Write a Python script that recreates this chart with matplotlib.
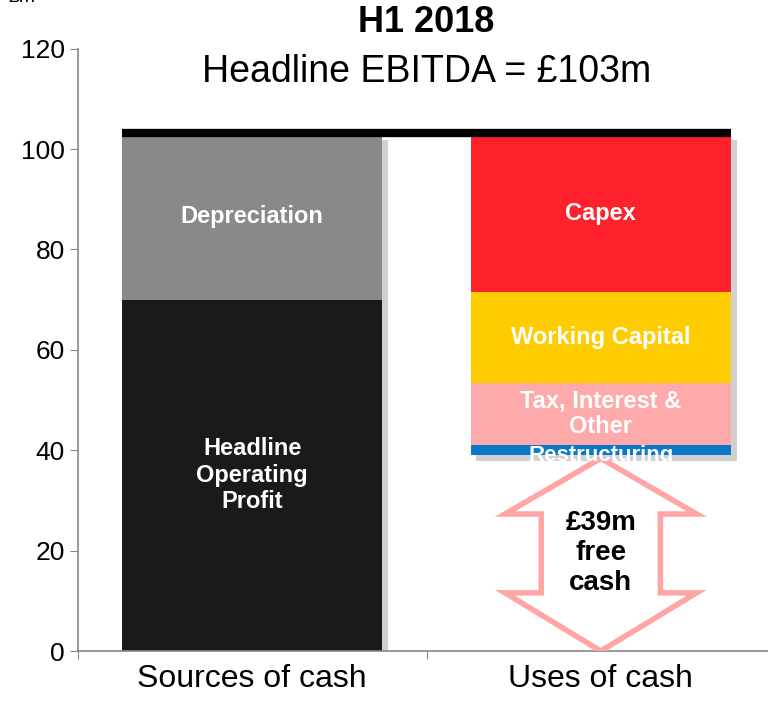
import numpy as np
import matplotlib
matplotlib.use("Agg")
import matplotlib.pyplot as plt
import matplotlib.patheffects as pe
from matplotlib.patches import Polygon

plt.rcParams['font.family'] = ['Liberation Sans', 'DejaVu Sans']

categories = ["Sources of cash", "Uses of cash"]
ebitda = 103

# sources stack (bottom -> top)
src_labels = ["Headline\nOperating\nProfit", "Depreciation"]
src_values = [70, 33]
src_colors = ["#1a1a1a", "#898989"]

# uses stack (top -> down from EBITDA)
use_labels = ["Capex", "Working Capital", "Tax, Interest &\nOther", "Restructuring"]
use_values = [31.5, 18, 12.5, 2]
use_colors = ["#ff222c", "#ffcc00", "#ffaaaa", "#0a78c8"]

free_cash = ebitda - sum(use_values)

fig = plt.figure(figsize=(7.68, 7.02), dpi=100)
ax = fig.add_axes([0.1016, 0.0726, 0.9076, 0.858])

x = np.arange(len(categories))
w = 0.747
shadow = [pe.SimplePatchShadow(offset=(4, -4), alpha=0.3, shadow_rgbFace="#666666")]

# soft shadows behind each stack
sb = ax.bar(x[0], sum(src_values), w, color="none", zorder=1)
sb[0].set_path_effects(shadow)
ub = ax.bar(x[1], sum(use_values), w, bottom=ebitda - sum(use_values), color="none", zorder=1)
ub[0].set_path_effects(shadow)

bottom = 0
for lab, v, c in zip(src_labels, src_values, src_colors):
    ax.bar(x[0], v, w, bottom=bottom, color=c, zorder=2)
    ax.text(x[0], bottom + v / 2, lab, ha="center", va="center", color="white",
            fontsize=17, fontweight="bold", zorder=5, linespacing=1.2)
    bottom += v

top = ebitda
for lab, v, c in zip(use_labels, use_values, use_colors):
    ax.bar(x[1], v, w, bottom=top - v, color=c, zorder=2)
    ypos = top - v / 2
    fs = 17
    if lab == "Restructuring":
        ypos = top - v
        fs = 16
    ax.text(x[1], ypos, lab, ha="center", va="center", color="white",
            fontsize=fs, fontweight="bold", zorder=5, linespacing=1.1)
    top -= v

# EBITDA line
ax.plot([x[0] - w / 2, x[1] + w / 2], [ebitda + 0.3, ebitda + 0.3], color="black", lw=6,
        solid_capstyle="butt", zorder=4)

# free cash double arrow
cx = x[1]
tip_top = free_cash - 0.6
head_h = 11.1
hw, sw = 0.275, 0.171
arrow = [(cx, tip_top), (cx + hw, tip_top - head_h), (cx + sw, tip_top - head_h),
         (cx + sw, head_h + 0.5), (cx + hw, head_h + 0.5), (cx, 0),
         (cx - hw, head_h + 0.5), (cx - sw, head_h + 0.5), (cx - sw, tip_top - head_h),
         (cx - hw, tip_top - head_h)]
ax.add_patch(Polygon(arrow, closed=True, facecolor="white", edgecolor="#ffa5a5", lw=4,
                     zorder=3, joinstyle="miter"))
ax.text(cx, tip_top / 2 + 0.3, "£%gm\nfree\ncash" % free_cash, ha="center", va="center",
        fontsize=20, fontweight="bold", color="black", zorder=5, linespacing=1.2)

ax.text(0.5, 1.044, "H1 2018", transform=ax.transAxes, ha="center", va="center",
        fontsize=26, fontweight="bold")
ax.text(0.5, 0.962, "Headline EBITDA = £%dm" % ebitda, transform=ax.transAxes,
        ha="center", va="center", fontsize=27)
ax.text(-0.1, 1.085, "£m", transform=ax.transAxes, ha="left", va="center", fontsize=14)

ax.set_ylim(0, 120)
ax.set_xlim(-0.5, 1.5)
ax.set_yticks(np.arange(0, 121, 20))
ax.tick_params(axis="y", labelsize=19, color="#888888", length=6, direction="out")
ax.set_xticks([-0.5, 0.5, 1.5])
ax.set_xticklabels([])
ax.tick_params(axis="x", which="major", color="#888888", length=6)
ax.set_xticks(x, minor=True)
ax.set_xticklabels(categories, minor=True, fontsize=23)
ax.tick_params(axis="x", which="minor", length=0, pad=9)
for s in ["top", "right"]:
    ax.spines[s].set_visible(False)
for s in ["left", "bottom"]:
    ax.spines[s].set_color("#888888")
    ax.spines[s].set_linewidth(1.2)

fig.savefig("out.png", dpi=100)
